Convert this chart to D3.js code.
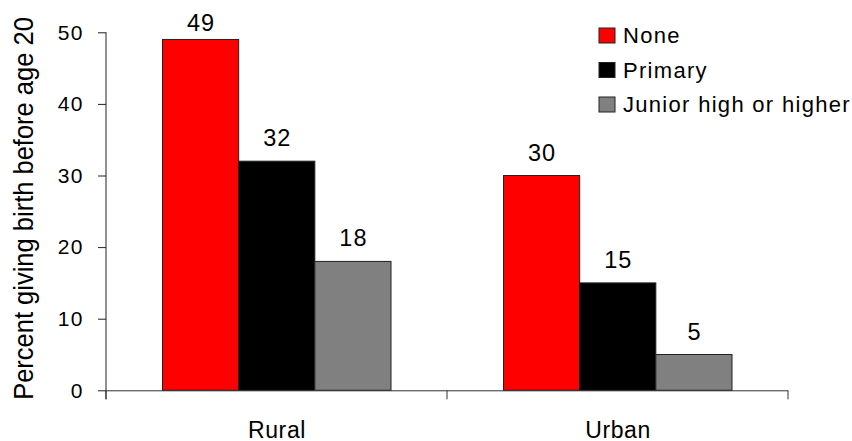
<!DOCTYPE html>
<html>
<head>
<meta charset="utf-8">
<script src="https://cdnjs.cloudflare.com/ajax/libs/d3/7.8.5/d3.min.js"></script>
<style>
  body { margin: 0; background: #fff; }
  svg { font-family: "Liberation Sans", Arial, sans-serif; }
</style>
</head>
<body>
<div id="chart"></div>
<script>
// data
let groups = ["Rural", "Urban"],
    series = ["None", "Primary", "Junior high or higher"],
    colors = ["#ff0000", "#000000", "#808080"],
    rural = [49, 32, 18],
    urban = [30, 15, 5],
    yTicks = [0, 10, 20, 30, 40, 50];

let values = { "Rural": rural, "Urban": urban };

let width = 852, height = 441;
let mLeft = 106, mRight = 788, mTop = 32.3, mBottom = 390.3;

let svg = d3.select("#chart").append("svg")
    .attr("width", width)
    .attr("height", height);

let x0 = d3.scaleBand().domain(groups).range([mLeft, mRight]).padding(0);
let x1 = d3.scaleBand().domain(series).range([56.5, x0.bandwidth() - 56]).padding(0);
let y = d3.scaleLinear().domain([0, 50]).range([mBottom, mTop]);

// bars
let g = svg.selectAll(".group")
    .data(groups)
    .enter()
    .append("g")
    .attr("class", "group")
    .attr("transform", function (d) { return "translate(" + x0(d) + ",0)"; });

g.selectAll("rect")
    .data(function (d) {
        return series.map(function (s, i) { return { s: s, v: values[d][i], c: colors[i] }; });
    })
    .enter()
    .append("rect")
    .attr("x", function (d) { return x1(d.s); })
    .attr("y", function (d) { return y(d.v); })
    .attr("width", x1.bandwidth())
    .attr("height", function (d) { return y(0) - y(d.v); })
    .attr("fill", function (d) { return d.c; })
    .attr("stroke", "#222")
    .attr("stroke-width", 1);

// value labels, kept inside the top of the picture
g.selectAll(".val")
    .data(function (d) {
        return series.map(function (s, i) { return { s: s, v: values[d][i] }; });
    })
    .enter()
    .append("text")
    .attr("class", "val")
    .attr("x", function (d) { return x1(d.s) + x1.bandwidth() / 2 + 0.5; })
    .attr("y", function (d) { return Math.max(y(d.v) - 15, 30.7); })
    .attr("text-anchor", "middle")
    .style("font-size", "23.5px")
    .style("letter-spacing", "1px")
    .text(function (d) { return d.v; });

// y axis
let yAxis = d3.axisLeft(y).tickValues(yTicks).tickSize(8).tickSizeOuter(0).tickPadding(14);
let ya = svg.append("g")
    .attr("transform", "translate(" + mLeft + ",0)")
    .call(yAxis);
ya.select(".domain").attr("stroke", "#222").attr("d", "M0," + (mBottom + 9) + "V" + mTop);
ya.selectAll(".tick line").attr("stroke", "#222");
ya.selectAll(".tick text").style("font-size", "21px").style("letter-spacing", "1.5px")
    .attr("fill", "#000").attr("font-family", null);

// x axis: boundary ticks between categories
let edges = [mLeft].concat(groups.map(function (d) { return x0(d) + x0.bandwidth(); }));
svg.append("line")
    .attr("x1", mLeft).attr("x2", mRight)
    .attr("y1", mBottom + 0.5).attr("y2", mBottom + 0.5)
    .attr("stroke", "#333");
svg.selectAll(".xtick")
    .data(edges)
    .enter()
    .append("line")
    .attr("class", "xtick")
    .attr("x1", function (d) { return d; })
    .attr("x2", function (d) { return d; })
    .attr("y1", mBottom)
    .attr("y2", mBottom + 9)
    .attr("stroke", "#333");
svg.selectAll(".xlabel")
    .data(groups)
    .enter()
    .append("text")
    .attr("class", "xlabel")
    .attr("x", function (d) { return x0(d) + x0.bandwidth() / 2 + 0.5; })
    .attr("y", 437.5)
    .attr("text-anchor", "middle")
    .style("font-size", "23px")
    .style("letter-spacing", "0.6px")
    .text(function (d) { return d; });

// y title
svg.append("text")
    .attr("transform", "translate(33,208.5) scale(1.1,1) rotate(-90)")
    .attr("text-anchor", "middle")
    .style("font-size", "25.5px")
    .text("Percent giving birth before age 20");

// legend
let legend = svg.selectAll(".legend")
    .data(series)
    .enter()
    .append("g")
    .attr("class", "legend")
    .attr("transform", function (d, i) { return "translate(599," + (28 + i * 34.5) + ")"; });
legend.append("rect")
    .attr("width", 16)
    .attr("height", 15)
    .attr("fill", function (d, i) { return colors[i]; })
    .attr("stroke", "#222");
legend.append("text")
    .attr("x", 24)
    .attr("y", 15)
    .style("font-size", "22px")
    .style("letter-spacing", "1.3px")
    .text(function (d) { return d; });
</script>
</body>
</html>
